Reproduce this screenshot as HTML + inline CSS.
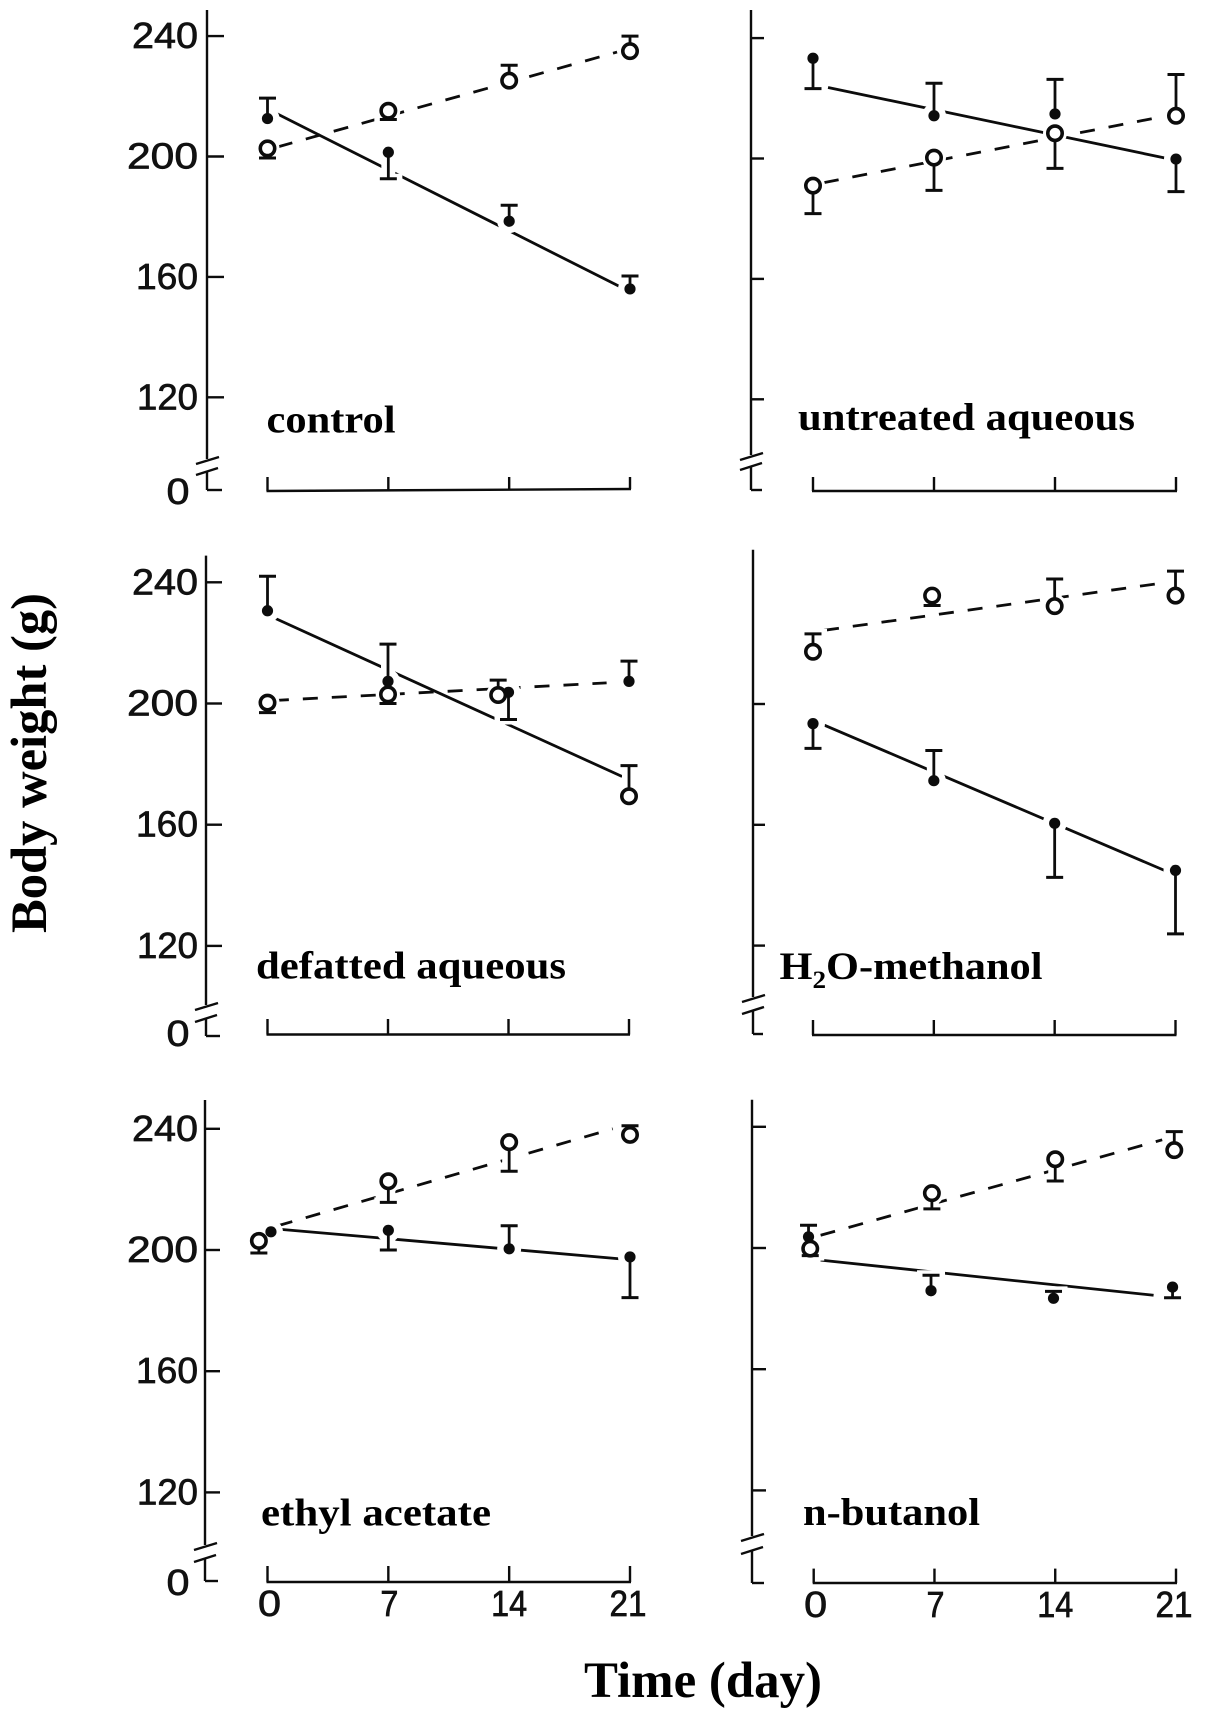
<!DOCTYPE html>
<html lang="en">
<head>
<meta charset="utf-8">
<title>Body weight over time by extract</title>
<style>
html,body{margin:0;padding:0;background:#fff;}
svg{display:block;}
.tick-num{font-family:"Liberation Sans",sans-serif;font-size:36px;fill:#111;stroke:#111;stroke-width:.7px;}
.panel-title{font-family:"Liberation Serif",serif;font-weight:bold;font-size:39px;fill:#000;}
.axis-title{font-family:"Liberation Serif",serif;font-weight:bold;font-size:51px;fill:#000;}
</style>
</head>
<body>
<svg id="figure" xmlns="http://www.w3.org/2000/svg" width="1205" height="1720" viewBox="0 0 1205 1720">
  <rect width="1205" height="1720" fill="#fff"/>
  <text class="axis-title" transform="translate(46,933) rotate(-90)" textLength="340" lengthAdjust="spacingAndGlyphs">Body weight (g)</text>
  <text class="axis-title" x="584" y="1697" textLength="238" lengthAdjust="spacingAndGlyphs">Time (day)</text>
</svg>
<script>
// Shared tick labels
const yTicks = [240, 200, 160, 120];
const xTicks = [0, 7, 14, 21];

// control
const controlClosed = [212.6, 201.4, 178.5, 156];
const controlClosedCap = [219.4, 192.6, 183.8, 160.3];
const controlOpen = [202.7, 215.2, 225.2, 235];
const controlOpenCap = [199.5, 212.3, 230.3, 240];
const controlSolidDays = [0.48, 20.4];
const controlSolid = [214.4, 156.8];
const controlDashDays = [0.6, 20.25];
const controlDash = [203.2, 234.7];

// untreated aqueous
const untreatedClosed = [233.3, 214.2, 214.8, 199.8];
const untreatedClosedCap = [223.2, 225, 226.3, 189];
const untreatedOpen = [191, 200.3, 208.4, 214.2];
const untreatedOpenCap = [181.7, 189.4, 196.7, 227.9];
const untreatedSolidDays = [0.87, 20.5];
const untreatedSolid = [223.6, 200];
const untreatedDashDays = [0.63, 20.3];
const untreatedDash = [192, 214];

// defatted aqueous
const defattedClosed = [230.6, 207.3, 203.7, 207.3];
const defattedClosedCap = [242, 219.6, 194.7, 214];
const defattedOpen = [200.3, 203, 202.8, 169.4];
const defattedOpenCap = [197, 200, 207.7, 179.5];
const defattedOpenDays = [0, 7, 13.4, 21];
const defattedSolidDays = [0.37, 20.6];
const defattedSolid = [228.3, 175.9];
const defattedDashDays = [0.37, 19.7];
const defattedDash = [201, 206.8];

// H2O-methanol
const methanolClosed = [193.5, 174.6, 160.5, 144.9];
const methanolClosedCap = [185.3, 184.6, 142.6, 123.9];
const methanolOpen = [217.3, 235.9, 232.4, 235.9];
const methanolOpenCap = [223.2, 232.6, 241.4, 244];
const methanolOpenDays = [0, 6.9, 14, 21];
const methanolSolidDays = [0.49, 20.44];
const methanolSolid = [193.4, 144.7];
const methanolDashDays = [0.64, 19.8];
const methanolDash = [224.4, 239.7];

// ethyl acetate
const ethylClosed = [206, 206.5, 200.4, 197.7];
const ethylClosedCap = [206, 200, 208, 184.3];
const ethylClosedDays = [0.2, 7, 14, 21];
const ethylOpen = [203, 222.7, 235.6, 238];
const ethylOpenCap = [199, 215.7, 226, 241];
const ethylOpenDays = [-0.5, 7, 14, 21];
const ethylSolidDays = [0.6, 20.6];
const ethylSolid = [206.9, 197];
const ethylDashDays = [0.6, 20];
const ethylDash = [208, 240];

// n-butanol
const butanolClosed = [203.7, 185.9, 183.4, 187.1];
const butanolClosedCap = [207.5, 191, 185.7, 183.6];
const butanolClosedDays = [-0.3, 6.8, 13.9, 20.8];
const butanolOpen = [199.8, 218.1, 229.3, 232.3];
const butanolOpenCap = [197.5, 212.9, 222.1, 238.4];
const butanolOpenDays = [-0.2, 6.85, 14, 20.9];
const butanolSolidDays = [0.4, 19.7];
const butanolSolid = [196, 184.4];
const butanolDashDays = [0.4, 20.2];
const butanolDash = [204.2, 235.7];

// Panel layout (geometry) and references to the data arrays above
const panels = [
  {id:'control', title:'control', tx:266.5, ty:432.5, tw:129,
   x0:267.5, x21:630, y200:156.5, ppg:3.01, ax:207, top:10, brk:459, low:472, zero:490, base0:491, base21:489, baseTop:477, zeroOff:14,
   tickEnd:224, yLabels:true, xLabels:false,
   closed:controlClosed, closedCap:controlClosedCap, open:controlOpen, openCap:controlOpenCap,
   solidDays:controlSolidDays, solid:controlSolid, dashDays:controlDashDays, dash:controlDash},
  {id:'untreated', title:'untreated aqueous', tx:798, ty:430, tw:337,
   x0:813, x21:1176, y200:158.5, ppg:3.01, ax:751, top:10, brk:455, low:467, zero:490, base0:491, base21:491, baseTop:477, zeroOff:13,
   tickEnd:764, yLabels:false, xLabels:false,
   closed:untreatedClosed, closedCap:untreatedClosedCap, open:untreatedOpen, openCap:untreatedOpenCap,
   solidDays:untreatedSolidDays, solid:untreatedSolid, dashDays:untreatedDashDays, dash:untreatedDash},
  {id:'defatted', title:'defatted aqueous', tx:256, ty:978.5, tw:310,
   x0:267.5, x21:629, y200:703.5, ppg:3.03, ax:206, top:555.6, brk:1005, low:1019, zero:1036, base0:1034.5, base21:1034.5, baseTop:1019, zeroOff:10,
   tickEnd:222, yLabels:true, xLabels:false,
   closed:defattedClosed, closedCap:defattedClosedCap, open:defattedOpen, openCap:defattedOpenCap, openDays:defattedOpenDays,
   solidDays:defattedSolidDays, solid:defattedSolid, dashDays:defattedDashDays, dash:defattedDash},
  {id:'methanol', title:'H2O-methanol', tx:779.5, ty:979, tw:263,
   x0:813, x21:1175.5, y200:704, ppg:3.02, ax:753, top:549.7, brk:997, low:1011, zero:1034, base0:1035, base21:1035, baseTop:1020, zeroOff:13, skipTop:true,
   tickEnd:765, yLabels:false, xLabels:false,
   closed:methanolClosed, closedCap:methanolClosedCap, open:methanolOpen, openCap:methanolOpenCap, openDays:methanolOpenDays,
   solidDays:methanolSolidDays, solid:methanolSolid, dashDays:methanolDashDays, dash:methanolDash},
  {id:'ethyl', title:'ethyl acetate', tx:261, ty:1525.5, tw:230,
   x0:267.5, x21:630, y200:1250, ppg:3.03, ax:205, top:1100, brk:1545, low:1559, zero:1581, base0:1582, base21:1582, baseTop:1566, zeroOff:14,
   tickEnd:220, yLabels:true, xLabels:true,
   closed:ethylClosed, closedCap:ethylClosedCap, closedDays:ethylClosedDays, open:ethylOpen, openCap:ethylOpenCap, openDays:ethylOpenDays,
   solidDays:ethylSolidDays, solid:ethylSolid, dashDays:ethylDashDays, dash:ethylDash},
  {id:'butanol', title:'n-butanol', tx:803, ty:1525, tw:177,
   x0:813.7, x21:1176, y200:1248, ppg:3.03, ax:752, top:1099.7, brk:1536, low:1551, zero:1583, base0:1583, base21:1583, baseTop:1568.6, zeroOff:13,
   tickEnd:766, yLabels:false, xLabels:true,
   closed:butanolClosed, closedCap:butanolClosedCap, closedDays:butanolClosedDays, open:butanolOpen, openCap:butanolOpenCap, openDays:butanolOpenDays,
   solidDays:butanolSolidDays, solid:butanolSolid, dashDays:butanolDashDays, dash:butanolDash}
];

const NS = 'http://www.w3.org/2000/svg';
const root = document.getElementById('figure');
const INK = '#0c0c0c';

function mk(tag, attrs, parent) {
  const el = document.createElementNS(NS, tag);
  for (const k in attrs) el.setAttribute(k, attrs[k]);
  parent.appendChild(el);
  return el;
}
function seg(parent, x1, y1, x2, y2, w, color) {
  return mk('line', {x1:x1, y1:y1, x2:x2, y2:y2, stroke:color || INK, 'stroke-width':w || 2.4, 'stroke-linecap':'butt'}, parent);
}

function drawAxes(p, g, xScale, yScale) {
  const upper = seg(g, p.ax, p.top, p.ax, p.brk);
  
  
  const lower = seg(g, p.ax, p.low, p.ax, p.zero);
  
  
  const zeroTick = seg(g, p.ax, p.zero, p.tickEnd - 2, p.zero);
  
  
  const slashA = seg(g, p.ax - 11, p.brk + 5, p.ax + 12, p.brk - 2);
  
  
  const slashB = seg(g, p.ax - 11, p.low + 3, p.ax + 11, p.low - 4);
  
  

  const labelWidths = {240:66, 200:71, 160:62, 120:61};
  yTicks.forEach(function (v) {
    if (p.skipTop && v === yTicks[0]) return;
    const t = seg(g, p.ax, yScale(v), p.tickEnd, yScale(v));
    
    
    if (p.yLabels) {
      const lab = mk('text', {class:'tick-num', x:198, y:yScale(v) + 12, 'text-anchor':'end', textLength:labelWidths[v], lengthAdjust:'spacingAndGlyphs'}, g);
      lab.textContent = v;
      
      
    }
  });
  if (p.yLabels) {
    const zeroLab = mk('text', {class:'tick-num', x:178, y:p.zero + p.zeroOff, 'text-anchor':'middle', textLength:23, lengthAdjust:'spacingAndGlyphs'}, g);
    zeroLab.textContent = '0';
    
    
  }

  const base = seg(g, xScale(0) - 1, p.base0, xScale(21) + 1, p.base21);
  
  
  const xWidths = {0:23, 7:18, 14:36, 21:37};
  const xOffsets = {0:2, 7:1, 14:0, 21:-2};
  xTicks.forEach(function (d) {
    const by = p.base0 + (p.base21 - p.base0) * d / 21;
    const t = seg(g, xScale(d), by, xScale(d), p.baseTop);
    
    
    if (p.xLabels) {
      const lab = mk('text', {class:'tick-num', x:xScale(d) + xOffsets[d], y:by + 34, 'text-anchor':'middle', textLength:xWidths[d], lengthAdjust:'spacingAndGlyphs'}, g);
      lab.textContent = d;
      
      
    }
  });
}

function drawTitle(p, g) {
  const t = mk('text', {class:'panel-title', x:p.tx, y:p.ty, textLength:p.tw, lengthAdjust:'spacingAndGlyphs'}, g);
  if (p.title.indexOf('H2O') === 0) {
    t.appendChild(document.createTextNode('H'));
    const sub = mk('tspan', {dy:9, 'font-size':25}, t);
    sub.textContent = '2';
    const rest = mk('tspan', {dy:-9}, t);
    rest.textContent = 'O-methanol';
  } else {
    t.textContent = p.title;
  }
  
  
}

function drawLine(layer, days, vals, xScale, yScale, dashed, name) {
  const l = seg(layer, xScale(days[0]), yScale(vals[0]), xScale(days[1]), yScale(vals[1]), 2.8);
  if (dashed) l.setAttribute('stroke-dasharray', '15 14');
  
  
}

function drawPoints(halo, marks, days, vals, caps, xScale, yScale, isOpen) {
  vals.forEach(function (v, i) {
    const px = xScale(days[i]);
    const py = yScale(v);
    const cy = yScale(caps[i]);
    // white knock-out around each mark, as in the original artwork
    if (Math.abs(py - cy) > 0.5) {
      const hb = seg(halo, px, py, px, cy, 14, '#fff');
      
      
      const hc = seg(halo, px - 14, cy, px + 14, cy, 10, '#fff');
      
      
    }
    const hm = mk('circle', {cx:px, cy:py, r:isOpen ? 12 : 12, fill:'#fff'}, halo);
    
    

    if (Math.abs(py - cy) > 0.5) {
      const bar = seg(marks, px, py, px, cy, 2.8);
      
      
      const cap = seg(marks, px - 8.5, cy, px + 8.5, cy, 3);
      
      
    }
    const dot = isOpen
      ? mk('circle', {cx:px, cy:py, r:7.2, fill:'#fff', stroke:INK, 'stroke-width':3.6}, marks)
      : mk('circle', {cx:px, cy:py, r:5.6, fill:INK}, marks);
    
    
  });
}

panels.forEach(function (p) {
  const xScale = function (d) { return p.x0 + d * (p.x21 - p.x0) / 21; };
  const yScale = function (v) { return p.y200 + (200 - v) * p.ppg; };
  const g = mk('g', {}, root);
  
  

  drawAxes(p, g, xScale, yScale);

  const lineLayer = mk('g', {}, g);
  
  
  const haloLayer = mk('g', {}, g);
  
  
  const markLayer = mk('g', {}, g);
  
  

  drawLine(lineLayer, p.dashDays, p.dash, xScale, yScale, true, 'dashed-trend-line');
  drawLine(lineLayer, p.solidDays, p.solid, xScale, yScale, false, 'solid-trend-line');
  drawPoints(haloLayer, markLayer, p.closedDays || xTicks, p.closed, p.closedCap, xScale, yScale, false);
  drawPoints(haloLayer, markLayer, p.openDays || xTicks, p.open, p.openCap, xScale, yScale, true);

  drawTitle(p, g);
});
</script>
</body>
</html>
